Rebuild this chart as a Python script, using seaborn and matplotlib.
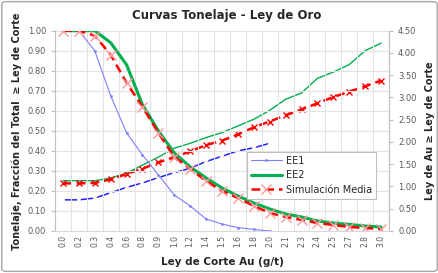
import numpy as np
import pandas as pd
import matplotlib
matplotlib.use("Agg")
import matplotlib.pyplot as plt
from matplotlib.patches import FancyBboxPatch
import seaborn as sns

cutoffs = ["0.0", "0.2", "0.3", "0.4", "0.6", "0.8", "0.9", "1.0", "1.2", "1.4", "1.5",
           "1.6", "1.8", "2.0", "2.1", "2.3", "2.4", "2.5", "2.7", "2.8", "3.0"]

ton_ee1 = [1.00, 1.00, 0.90, 0.675, 0.49, 0.38, 0.28, 0.18, 0.125, 0.06, 0.035,
           0.017, 0.008, 0.0, np.nan, np.nan, np.nan, np.nan, np.nan, np.nan, np.nan]
ton_ee2 = [1.00, 1.00, 1.00, 0.94, 0.83, 0.63, 0.50, 0.39, 0.32, 0.265, 0.215,
           0.175, 0.14, 0.11, 0.085, 0.07, 0.05, 0.04, 0.033, 0.025, 0.02]
ton_sim = [1.00, 1.00, 0.975, 0.88, 0.74, 0.62, 0.49, 0.37, 0.31, 0.25, 0.20,
           0.165, 0.125, 0.09, 0.07, 0.055, 0.04, 0.03, 0.02, 0.015, 0.01]

ley_ee1 = [0.70, 0.70, 0.74, 0.86, 0.98, 1.08, 1.20, 1.31, 1.41, 1.56, 1.68,
           1.80, 1.87, 1.97, np.nan, np.nan, np.nan, np.nan, np.nan, np.nan, np.nan]
ley_ee2 = [1.13, 1.13, 1.13, 1.19, 1.30, 1.48, 1.66, 1.86, 1.97, 2.10, 2.21,
           2.36, 2.51, 2.71, 2.96, 3.10, 3.43, 3.57, 3.74, 4.05, 4.22]
ley_sim = [1.07, 1.07, 1.08, 1.16, 1.28, 1.40, 1.54, 1.66, 1.79, 1.93, 2.03,
           2.17, 2.33, 2.46, 2.60, 2.73, 2.87, 3.01, 3.13, 3.25, 3.38]

df = pd.DataFrame({
    "idx": np.arange(len(cutoffs)),
    "ton_ee1": ton_ee1, "ton_ee2": ton_ee2, "ton_sim": ton_sim,
    "ley_ee1": ley_ee1, "ley_ee2": ley_ee2, "ley_sim": ley_sim,
})

sns.set_style("white")
plt.rcParams["font.family"] = ["DejaVu Sans"]

fig = plt.figure(figsize=(4.39, 2.73), dpi=100)
fig.patches.append(FancyBboxPatch((0.004, 0.006), 0.992, 0.988, boxstyle="round,pad=0,rounding_size=0.01",
                                  transform=fig.transFigure, fill=False, edgecolor="#a6a6a6", lw=1.0))
ax = fig.add_axes([55/439, 1-231/273, (389-55)/439, (231-30.7)/273])
ax2 = ax.twinx()

green = "#00b050"
blue_l = "#7f7fff"
blue = "#2020ff"
red = "#ff0000"

# tonnage (left axis)
sns.lineplot(data=df, x="idx", y="ton_ee1", ax=ax, color=blue_l, lw=0.8, marker="o", ms=2,
             markeredgewidth=0, label="EE1", legend=False)
sns.lineplot(data=df, x="idx", y="ton_ee2", ax=ax, color=green, lw=2.2, label="EE2", legend=False)
sns.lineplot(data=df, x="idx", y="ton_sim", ax=ax, color=red, lw=1.8, linestyle=(0, (3.5, 2)),
             marker="x", ms=6.5, mec="#ff9a9a", mew=1.0, label="Simulación Media", legend=False)

# grade (right axis)
sns.lineplot(data=df, x="idx", y="ley_ee1", ax=ax2, color=blue, lw=1.1, marker="x", ms=3.5,
             mew=1.3, legend=False)
sns.lineplot(data=df, x="idx", y="ley_ee2", ax=ax2, color=green, lw=1.0, legend=False)
sns.lineplot(data=df, x="idx", y="ley_sim", ax=ax2, color=red, lw=1.8, linestyle=(0, (3.5, 2)),
             marker="x", ms=4, mec=red, mew=1.0, legend=False)

ax.set_xlim(-0.5, len(cutoffs) - 0.5)
ax.set_ylim(0, 1.0)
ax2.set_ylim(0, 4.5)

ax.set_xticks(np.arange(len(cutoffs)))
ax.set_xticklabels(cutoffs, rotation=90)
ax.set_yticks(np.arange(0, 1.01, 0.1))
ax.set_yticklabels([f"{v:.2f}" for v in np.arange(0, 1.01, 0.1)])
ax2.set_yticks(np.arange(0, 4.51, 0.5))
ax2.set_yticklabels([f"{v:.2f}" for v in np.arange(0, 4.51, 0.5)])

ax.set_xticks(np.arange(-0.5, len(cutoffs)), minor=True)
ax.grid(False)
ax.grid(True, which="minor", axis="x", color="#e3e3e3", lw=0.8)
ax.grid(True, which="major", axis="y", color="#e3e3e3", lw=0.8)
ax2.grid(False)

tick_col = "#595959"
ax.tick_params(axis="x", which="major", length=0, labelsize=5.5, labelcolor=tick_col, pad=3)
ax.tick_params(axis="x", which="minor", length=0)
ax.tick_params(axis="y", length=3, labelsize=6, labelcolor=tick_col, color="#bfbfbf", left=True)
ax2.tick_params(axis="y", length=3, labelsize=6, labelcolor=tick_col, color="#bfbfbf", right=True)

for a in (ax, ax2):
    for s in a.spines.values():
        s.set_visible(False)
ax.spines["left"].set_visible(True)
ax.spines["left"].set_color("#bfbfbf")
ax.spines["bottom"].set_visible(True)
ax.spines["bottom"].set_color("#d9d9d9")
ax2.spines["right"].set_visible(True)
ax2.spines["right"].set_color("#bfbfbf")

ax.set_xlabel("Ley de Corte Au (g/t)", fontsize=7.5, fontweight="bold", labelpad=7)
ax.set_ylabel("Tonelaje, Fracción del Total  ≥ Ley de Corte", fontsize=7.0, fontweight="bold", labelpad=4)
ax2.set_ylabel("Ley de Au ≥ Ley de Corte", fontsize=7.0, fontweight="bold", labelpad=6)
fig.text(227/439, 1-16/273, "Curvas Tonelaje - Ley de Oro", ha="center", va="center",
         fontsize=8.5, fontweight="bold", color="#262626")

handles, labels = ax.get_legend_handles_labels()
leg = ax.legend(handles, labels, loc="upper left", bbox_to_anchor=(247/439, 1-152/273),
                bbox_transform=fig.transFigure, fontsize=7, frameon=True, fancybox=False,
                framealpha=1, edgecolor="#bfbfbf", borderpad=0.4, labelspacing=0.45,
                handlelength=3.2, handletextpad=0.4, borderaxespad=0)
leg.get_frame().set_linewidth(0.8)
ax.set_zorder(ax2.get_zorder() + 1)
ax.patch.set_visible(False)

fig.savefig("out.png", dpi=100)
